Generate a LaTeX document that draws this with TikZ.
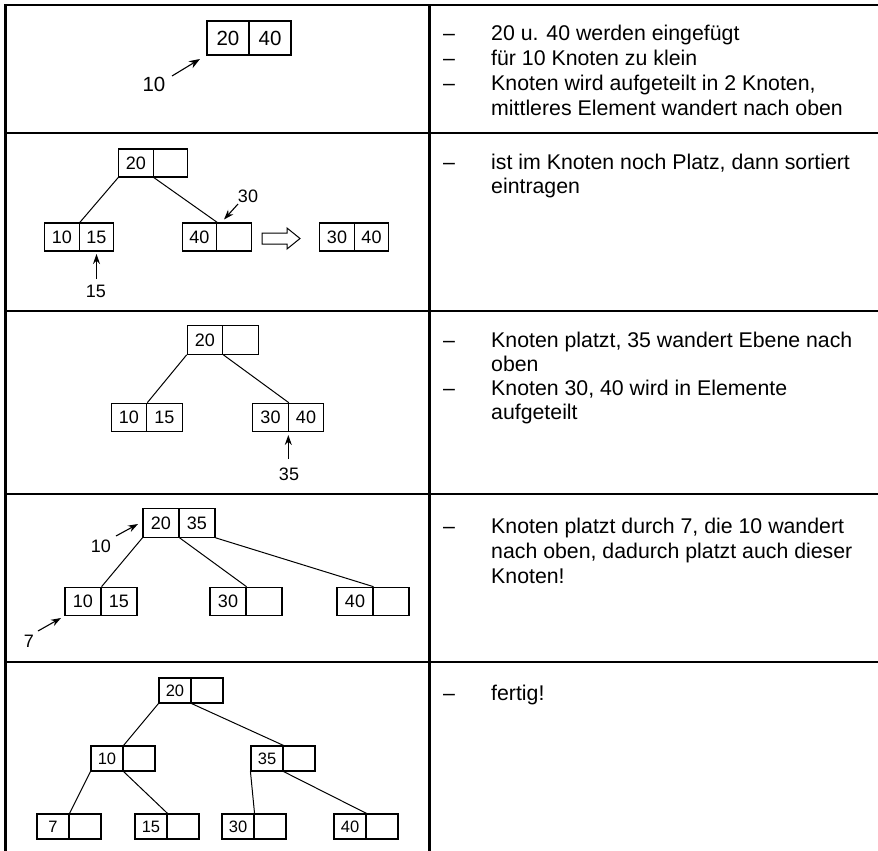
\documentclass[tikz,border=0pt]{standalone}
\usepackage{fontspec}
\setmainfont{Liberation Sans}
\usetikzlibrary{arrows.meta}
\begin{document}
\begin{tikzpicture}[x=1pt,y=-1pt,
  rule/.style={line width=2.4pt},
  cell/.style={draw,line width=1.1pt,inner sep=0pt},
  c1/.style={cell,minimum width=42pt,minimum height=34pt,font=\fontsize{20.5}{24}\selectfont},
  c2/.style={cell,minimum width=34.5pt,minimum height=28pt,font=\fontsize{18}{21}\selectfont},
  c3/.style={cell,minimum width=35.5pt,minimum height=28.5pt,font=\fontsize{18}{21}\selectfont},
  c4/.style={cell,minimum width=36pt,minimum height=28.5pt,font=\fontsize{18}{21}\selectfont},
  c5/.style={cell,minimum width=32pt,minimum height=25pt,font=\fontsize{16.5}{19}\selectfont},
  link/.style={line width=1pt},
  push/.style={-{Stealth[length=10pt,width=7pt]},line width=1.1pt},
  lbl/.style={inner sep=0pt,font=\fontsize{18}{21}\selectfont},
  txt/.style={anchor=base west,inner sep=0pt,font=\fontsize{21.3}{25}\selectfont},
  bullet/.style={anchor=base west,inner sep=0pt,font=\fontsize{21.3}{25}\selectfont}]
\useasboundingbox[fill=white] (0,0) rectangle (878,851);

% table rules
\foreach \yy in {5.3,133,311,494,662} \draw[rule] (4.1,\yy) -- (878,\yy);
\draw[rule] (5.3,5.3) -- (5.3,851);
\draw[rule] (429.5,5.3) -- (429.5,851);

% ---- row 1: full node 20|40, 10 arrives
\node[c1] (r1a) at (228,38) {20};
\node[c1] (r1b) at (270,38) {40};
\node[lbl,font=\fontsize{20.5}{24}\selectfont] (r1k) at (154,84.5) {10};
\coordinate (r1s) at (172,76);
\coordinate (r1e) at (200,59);
\draw[push,-{Stealth[length=11pt,width=8pt]}] (r1s) -- (r1e);

% ---- row 2
\node[c2] (r2ra) at (136,163) {20};
\node[c2] (r2rb) at (170.5,163) {};
\node[c2] (r2la) at (62,237) {10};
\node[c2] (r2lb) at (96.5,237) {15};
\node[c2] (r2ma) at (199.5,237) {40};
\node[c2] (r2mb) at (234,237) {};
\node[c2] (r2xa) at (337,237) {30};
\node[c2] (r2xb) at (371.5,237) {40};
\draw[link] (r2ra.south west) -- (r2la.north east);
\draw[link] (r2ra.south east) -- (r2ma.north east);
\node[lbl] (r2k30) at (248,196) {30};
\coordinate (r2s30) at (238,204);
\coordinate (r2e30) at (224,219.5);
\draw[push] (r2s30) -- (r2e30);
\node[lbl] (r2k15) at (96,291) {15};
\coordinate (r2s15) at (96.5,279);
\coordinate (r2e15) at (96.5,254);
\draw[push] (r2s15) -- (r2e15);
% hollow arrow between the two states
\draw[line width=1pt] (262,233) -- (287,233) -- (287,228) -- (300,238.5)
  -- (287,249) -- (287,244) -- (262,244) -- cycle;

% ---- row 3
\node[c3] (r3ra) at (205,340) {20};
\node[c3] (r3rb) at (240.5,340) {};
\node[c3] (r3la) at (129,417.5) {10};
\node[c3] (r3lb) at (164.5,417.5) {15};
\node[c3] (r3xa) at (270.5,417.5) {30};
\node[c3] (r3xb) at (306,417.5) {40};
\draw[link] (r3ra.south west) -- (r3la.north east);
\draw[link] (r3ra.south east) -- (r3xa.north east);
\node[lbl] (r3k35) at (289,474) {35};
\coordinate (r3s35) at (288.3,459);
\coordinate (r3e35) at (288.3,435);
\draw[push] (r3s35) -- (r3e35);

% ---- row 4
\node[c4] (r4ra) at (161,523) {20};
\node[c4] (r4rb) at (197,523) {35};
\node[c4] (r4la) at (83,601.5) {10};
\node[c4] (r4lb) at (119,601.5) {15};
\node[c4] (r4ma) at (228,601.5) {30};
\node[c4] (r4mb) at (264,601.5) {};
\node[c4] (r4xa) at (355,601.5) {40};
\node[c4] (r4xb) at (391,601.5) {};
\draw[link] (r4ra.south west) -- (r4la.north east);
\draw[link] (r4ra.south east) -- (r4ma.north east);
\draw[link] (r4rb.south east) -- (r4xa.north east);
\node[lbl] (r4k10) at (101,546) {10};
\coordinate (r4s10) at (116,536);
\coordinate (r4e10) at (138,524);
\draw[push] (r4s10) -- (r4e10);
\node[lbl] (r4k7) at (29,641) {7};
\coordinate (r4s7) at (38,631);
\coordinate (r4e7) at (61,618);
\draw[push] (r4s7) -- (r4e7);

% ---- row 5: final tree
\node[c5] (r5ra) at (175,690.5) {20};
\node[c5] (r5rb) at (207,690.5) {};
\node[c5] (r5pa) at (107,758.5) {10};
\node[c5] (r5pb) at (139,758.5) {};
\node[c5] (r5qa) at (267,758.5) {35};
\node[c5] (r5qb) at (299,758.5) {};
\node[c5] (r5aa) at (53,826.5) {7};
\node[c5] (r5ab) at (85,826.5) {};
\node[c5] (r5ba) at (151,826.5) {15};
\node[c5] (r5bb) at (183,826.5) {};
\node[c5] (r5ca) at (238,826.5) {30};
\node[c5] (r5cb) at (270,826.5) {};
\node[c5] (r5da) at (350,826.5) {40};
\node[c5] (r5db) at (382,826.5) {};
\draw[link] (r5ra.south west) -- (r5pa.north east);
\draw[link] (r5ra.south east) -- (r5qa.north east);
\draw[link] (r5pa.south west) -- (r5aa.north east);
\draw[link] (r5pa.south east) -- (r5ba.north east);
\draw[link] (r5qa.south west) -- (r5ca.north east);
\draw[link] (r5qa.south east) -- (r5da.north east);

% ---- explanations
\node[bullet] (d1a) at (443,40.5) {–};
\node[txt] (t1a) at (491,40.5) {20 u. 40 werden eingefügt};
\node[bullet] (d1b) at (443,65.5) {–};
\node[txt] (t1b) at (491,65.5) {für 10 Knoten zu klein};
\node[bullet] (d1c) at (443,90.5) {–};
\node[txt] (t1c) at (491,90.5) {Knoten wird aufgeteilt in 2 Knoten,};
\node[txt] (t1d) at (491,115.5) {mittleres Element wandert nach oben};

\node[bullet] (d2a) at (443,169) {–};
\node[txt] (t2a) at (491,169) {ist im Knoten noch Platz, dann sortiert};
\node[txt] (t2b) at (491,193.5) {eintragen};

\node[bullet] (d3a) at (443,347) {–};
\node[txt] (t3a) at (491,347) {Knoten platzt, 35 wandert Ebene nach};
\node[txt] (t3b) at (491,371) {oben};
\node[bullet] (d3b) at (443,395.5) {–};
\node[txt] (t3c) at (491,395.5) {Knoten 30, 40 wird in Elemente};
\node[txt] (t3d) at (491,419.5) {aufgeteilt};

\node[bullet] (d4a) at (443,533.5) {–};
\node[txt] (t4a) at (491,533.5) {Knoten platzt durch 7, die 10 wandert};
\node[txt] (t4b) at (491,558.5) {nach oben, dadurch platzt auch dieser};
\node[txt] (t4c) at (491,583.5) {Knoten!};

\node[bullet] (d5a) at (443,700) {–};
\node[txt] (t5a) at (491,700) {fertig!};
\end{tikzpicture}
\end{document}
